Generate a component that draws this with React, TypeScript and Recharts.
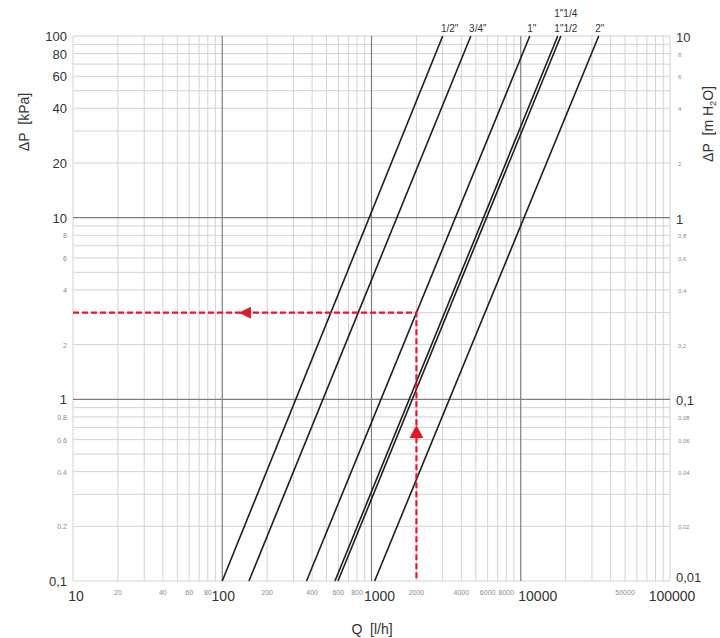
import React from "react";
import { ComposedChart, Line, XAxis, YAxis, ReferenceLine, Scatter } from "recharts";

// pipe sizes and the flow (l/h) where each line meets 0.1 kPa and 100 kPa
const sizes = ['1/2"', '3/4"', '1"', '1"1/4', '1"1/2', '2"'];
const flowAtMin = [100, 151, 367, 569, 596, 1050];
const flowAtMax = [3000, 4630, 11500, 17700, 18570, 33300];
const dpMin = 0.1;
const dpMax = 100;

// worked example: 2000 l/h on the 1" line -> 3 kPa
const exampleFlow = [10, 2000, 2000];
const exampleDp = [3, 3, 0.1];
const arrowFlow = [142, 2000];
const arrowDp = [3, 0.66];
const arrowDir = ["left", "up"];

const xTicks = [10, 20, 40, 60, 80, 100, 200, 400, 600, 800, 1000, 2000, 4000, 6000, 8000, 10000, 50000, 100000];
const xLarge = [10, 100, 1000, 10000, 100000];

const leftTicks = [0.1, 0.2, 0.4, 0.6, 0.8, 1, 2, 4, 6, 8, 10, 20, 40, 60, 80, 100];
const leftLabels = ["0,1", "0.2", "0.4", "0.6", "0.8", "1", "2", "4", "6", "8", "10", "20", "40", "60", "80", "100"];
const leftLarge = [0.1, 1, 10, 20, 40, 60, 80, 100];

const rightTicks = [0.01, 0.02, 0.04, 0.06, 0.08, 0.1, 0.2, 0.4, 0.6, 0.8, 1, 2, 4, 6, 8, 10];
const rightLabels = ["0,01", "0,02", "0,04", "0,06", "0,08", "0,1", "0,2", "0,4", "0,6", "0,8", "1", "2", "4", "6", "8", "10"];
const rightLarge = [0.01, 0.1, 1, 10];

const decadesX = [10, 100, 1000, 10000];
const decadesY = [0.1, 1, 10];
const steps = [1, 2, 3, 4, 5, 6, 7, 8, 9];

// label nudges (px) for the big x labels and the size names above the lines
const xLabelDx: Record<number, number> = { 10: 3, 100: 1, 1000: 8, 10000: 17, 100000: 2 };
const labelDx: Record<string, number> = { '1/2"': 7, '3/4"': 7, '1"': 2, '1"1/4': 8, '1"1/2': 5, '2"': 1 };
const labelDy: Record<string, number> = { '1/2"': -4, '3/4"': -4, '1"': -4, '1"1/4': -19, '1"1/2': -4, '2"': -4 };

const FONT = "Arial, 'Liberation Sans', sans-serif";
const RED = "#e3192b";

const gridX = decadesX.flatMap((d) => steps.map((s) => d * s)).concat([100000]);
const gridY = decadesY.flatMap((d) => steps.map((s) => d * s)).concat([100]);
const isMajorX = (v: number) => v === 100 || v === 1000 || v === 10000;
const isMajorY = (v: number) => v === 1 || v === 10;

const seriesData = sizes.map((s, i) => [
  { q: flowAtMin[i], dp: dpMin },
  { q: flowAtMax[i], dp: dpMax },
]);
const exampleData = exampleFlow.map((q, i) => ({ q, dp: exampleDp[i] }));
const arrowData = arrowFlow.map((q, i) => ({ q, dp: arrowDp[i], dir: arrowDir[i] }));
const labelData = sizes.map((s, i) => ({ q: flowAtMax[i], dp: dpMax, name: s }));

function XTick({ x, y, payload }: any) {
  const v = payload.value;
  const big = xLarge.includes(v);
  return (
    <text x={x + (big ? xLabelDx[v] : 0)} y={y + (big ? 14 : 8)} textAnchor="middle" fontFamily={FONT}
      fontSize={big ? 14 : 7} fill={big ? "#333" : "#8a8a8a"}>
      {v}
    </text>
  );
}

function LeftTick({ x, y, payload }: any) {
  const v = payload.value;
  const big = leftLarge.includes(v);
  return (
    <text x={x} y={y + (big ? 5 : 3)} textAnchor="end" fontFamily={FONT}
      fontSize={big ? 13 : 7} fill={big ? "#333" : "#8a8a8a"}>
      {leftLabels[leftTicks.indexOf(v)]}
    </text>
  );
}

function RightTick({ x, y, payload }: any) {
  const v = payload.value;
  const big = rightLarge.includes(v);
  const dy = v === 0.01 ? 1 : big ? 6 : 3;
  return (
    <text x={x + (big ? 0 : 2)} y={y + dy} textAnchor="start" fontFamily={FONT}
      fontSize={big ? 13 : 6} fill={big ? "#333" : "#8a8a8a"}>
      {rightLabels[rightTicks.indexOf(v)]}
    </text>
  );
}

function Arrow({ cx, cy, payload }: any) {
  if (cx == null || cy == null) return <g />;
  const pts = payload.dir === "left"
    ? `${cx - 6},${cy} ${cx + 6},${cy - 6} ${cx + 6},${cy + 6}`
    : `${cx},${cy - 7} ${cx - 7},${cy + 6} ${cx + 7},${cy + 6}`;
  return <polygon points={pts} fill={RED} />;
}

function SizeLabel({ cx, cy, payload }: any) {
  if (cx == null || cy == null) return <g />;
  const n = payload.name;
  return (
    <text x={cx + labelDx[n]} y={cy + labelDy[n]} textAnchor="middle" fontFamily={FONT} fontSize={10} fill="#333">
      {n}
    </text>
  );
}

export default function App() {
  return (
    <div style={{ position: "absolute", left: 0, top: 0, width: 720, height: 638, background: "#fff", fontFamily: FONT }}>
      <ComposedChart width={720} height={638} margin={{ top: 36, right: 0, bottom: 0, left: 0 }}>
        <XAxis dataKey="q" type="number" scale="log" domain={[10, 100000]} ticks={xTicks}
          interval={0} axisLine={false} tickLine={false} tickSize={6} tickMargin={0} height={57} tick={<XTick />} />
        <YAxis yAxisId="left" type="number" scale="log" domain={[dpMin, dpMax]} ticks={leftTicks}
          interval={0} axisLine={false} tickLine={false} tickSize={6} tickMargin={0} width={73} tick={<LeftTick />} />
        <YAxis yAxisId="right" orientation="right" type="number" scale="log" domain={[0.01, 10]} allowDataOverflow
          ticks={rightTicks} interval={0} axisLine={false} tickLine={false} tickSize={6} tickMargin={0} width={50}
          tick={<RightTick />} />

        {gridX.filter((v) => !isMajorX(v)).map((v) => (
          <ReferenceLine key={"gx" + v} x={v} yAxisId="left" stroke="#d2d2d2" strokeWidth={1} />
        ))}
        {gridY.filter((v) => !isMajorY(v)).map((v) => (
          <ReferenceLine key={"gy" + v} y={v} yAxisId="left" stroke="#d2d2d2" strokeWidth={1} />
        ))}
        {gridX.filter(isMajorX).map((v) => (
          <ReferenceLine key={"mx" + v} x={v} yAxisId="left" stroke="#7d7d7d" strokeWidth={1.2} />
        ))}
        {gridY.filter(isMajorY).map((v) => (
          <ReferenceLine key={"my" + v} y={v} yAxisId="left" stroke="#7d7d7d" strokeWidth={1.2} />
        ))}

        {sizes.map((s, i) => (
          <Line key={s} yAxisId="left" data={seriesData[i]} dataKey="dp" stroke="#1e1e1e" strokeWidth={1.6}
            dot={false} activeDot={false} isAnimationActive={false} />
        ))}

        <Line yAxisId="left" data={exampleData} dataKey="dp" stroke={RED} strokeWidth={2.2} strokeDasharray="6 3"
          dot={false} activeDot={false} isAnimationActive={false} />
        <Scatter yAxisId="left" data={arrowData} dataKey="dp" shape={<Arrow />} isAnimationActive={false} />
        <Scatter yAxisId="left" data={labelData} dataKey="dp" shape={<SizeLabel />} isAnimationActive={false} />
      </ComposedChart>

      <div style={{ position: "absolute", left: 24, top: 122, transform: "translate(-50%, -50%) rotate(-90deg)",
        whiteSpace: "nowrap", fontSize: 14, color: "#333" }}>
        ΔP&nbsp; [kPa]
      </div>
      <div style={{ position: "absolute", left: 709, top: 124, transform: "translate(-50%, -50%) rotate(-90deg)",
        whiteSpace: "nowrap", fontSize: 14, color: "#333" }}>
        ΔP&nbsp; [m H<sub style={{ fontSize: 9 }}>2</sub>O]
      </div>
      <div style={{ position: "absolute", left: 372, top: 629, transform: "translate(-50%, -50%)",
        whiteSpace: "nowrap", fontSize: 14, color: "#333" }}>
        Q&nbsp; [l/h]
      </div>
    </div>
  );
}
